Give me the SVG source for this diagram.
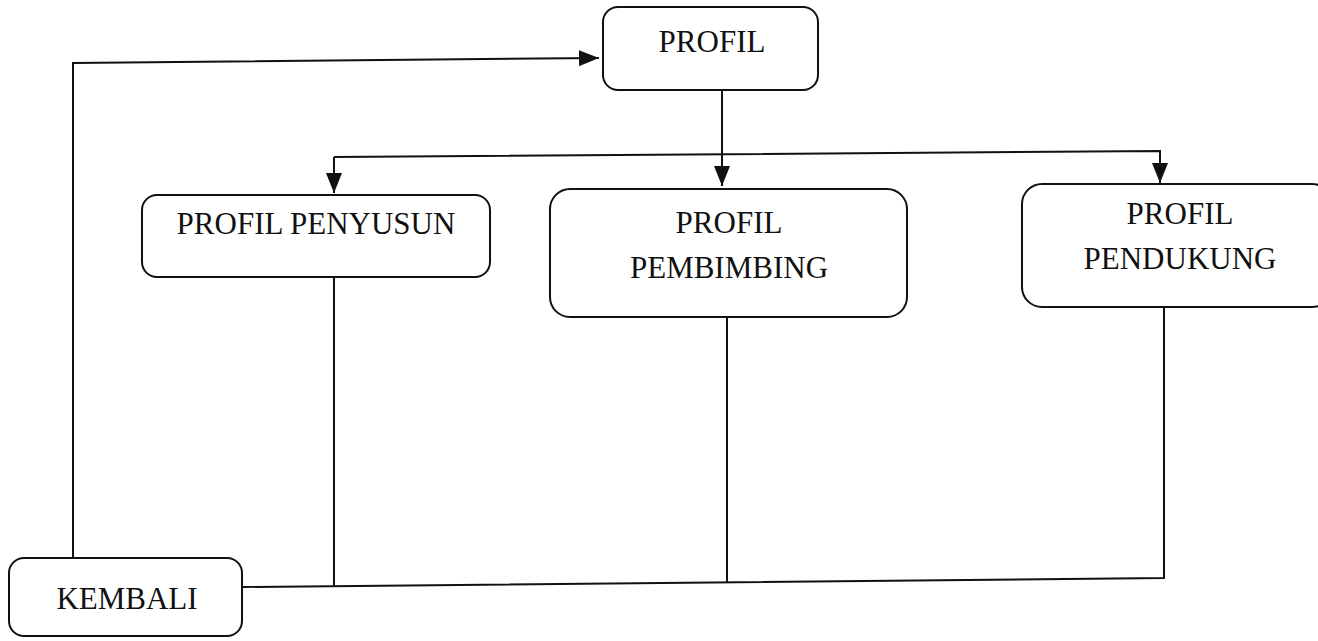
<svg xmlns="http://www.w3.org/2000/svg" width="1318" height="641" viewBox="0 0 1318 641">
<defs>
<style>
.box{fill:#fff;stroke:#111;stroke-width:2}
.t{font-family:"Liberation Serif","Times New Roman",serif;font-size:31px;fill:#111;text-anchor:middle}
.c{fill:none;stroke:#111;stroke-width:2}
</style>
<marker id="ah" viewBox="0 0 20 16" refX="20" refY="8" markerWidth="20" markerHeight="16" markerUnits="userSpaceOnUse" orient="auto">
<path d="M0,0 L20,8 L0,16 Z" fill="#111"/>
</marker>
</defs>
<rect width="1318" height="641" fill="#fff"/>
<g id="connectors">
<path class="c" d="M73,558 L73,63 L599,58" marker-end="url(#ah)"/>
<path class="c" d="M722,90 L722,186" marker-end="url(#ah)"/>
<path class="c" d="M334,157 L334,193" marker-end="url(#ah)"/>
<path class="c" d="M334,157 L1160,151 L1160,183" marker-end="url(#ah)"/>
<path class="c" d="M243,587 L1164,578 L1164,307"/>
<path class="c" d="M334,586 L334,277"/>
<path class="c" d="M727,582 L727,317"/>
</g>
<g id="profil">
<rect class="box" x="603" y="7" width="215" height="83" rx="15"/>
<text class="t" x="712" y="52">PROFIL</text>
</g>
<g id="profil-penyusun">
<rect class="box" x="142" y="195" width="348" height="82" rx="15"/>
<text class="t" x="316" y="234">PROFIL PENYUSUN</text>
</g>
<g id="profil-pembimbing">
<rect class="box" x="550" y="189" width="357" height="128" rx="20"/>
<text class="t" x="729" y="233">PROFIL</text>
<text class="t" x="729" y="278">PEMBIMBING</text>
</g>
<g id="profil-pendukung">
<rect class="box" x="1022" y="184" width="310" height="123" rx="20"/>
<text class="t" x="1180" y="224">PROFIL</text>
<text class="t" x="1180" y="269">PENDUKUNG</text>
</g>
<g id="kembali">
<rect class="box" x="9" y="558" width="233" height="78" rx="15"/>
<text class="t" x="127" y="609">KEMBALI</text>
</g>
</svg>
